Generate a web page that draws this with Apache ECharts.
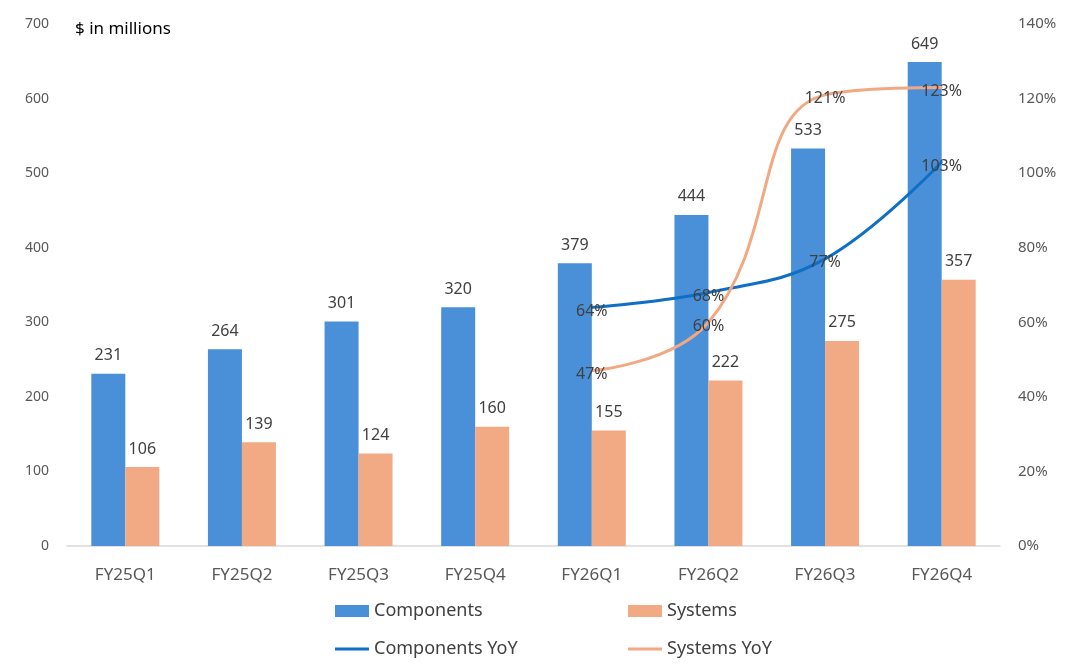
<!DOCTYPE html>
<html lang="en">
<head>
  <meta charset="UTF-8">
  <title>Components and Systems revenue</title>
  <script src="https://cdn.jsdelivr.net/npm/echarts@6/dist/echarts.min.js"></script>
  <style>
    html, body { margin: 0; padding: 0; background: #fff; }
    #chart { width: 1080px; height: 666px; }
  </style>
</head>
<body>
  <div id="chart"></div>
  <script>
    // data
    const quarters = ['FY25Q1', 'FY25Q2', 'FY25Q3', 'FY25Q4', 'FY26Q1', 'FY26Q2', 'FY26Q3', 'FY26Q4'];
    const components = [231, 264, 301, 320, 379, 444, 533, 649];
    const systems = [106, 139, 124, 160, 155, 222, 275, 357];
    const componentsYoY = [null, null, null, null, 64, 68, 77, 103];
    const systemsYoY = [null, null, null, null, 47, 60, 121, 123];

    const FONT = 'Noto Sans';
    const chart = echarts.init(document.getElementById('chart'));

    const legendBase = {
      orient: 'horizontal',
      itemWidth: 34,
      itemHeight: 12,
      itemGap: 4,
      textStyle: { fontFamily: FONT, fontSize: 18, color: '#404040' }
    };

    const barLabel = {
      show: true,
      position: 'top',
      distance: 10,
      fontFamily: FONT,
      fontSize: 16,
      color: '#404040'
    };

    // labels sit on the point, a little below centre
    const lineLabel = {
      show: true,
      position: 'inside',
      offset: [0, 4],
      fontFamily: FONT,
      fontSize: 16,
      color: '#404040',
      formatter: p => p.value + '%'
    };

    const option = {
      animation: false,
      backgroundColor: '#ffffff',
      title: {
        text: '$ in millions',
        left: 70,
        top: 16,
        textStyle: { fontFamily: FONT, fontSize: 17, fontWeight: 'normal', color: '#000' }
      },
      legend: [
        Object.assign({ left: 330, top: 597, data: [{ name: 'Components', icon: 'rect' }] }, legendBase),
        Object.assign({ left: 623, top: 597, data: [{ name: 'Systems', icon: 'rect' }] }, legendBase),
        Object.assign({ left: 330, top: 635, data: [{ name: 'Components YoY', icon: 'path://M0,0H34V3H0Z' }] }, legendBase, { itemHeight: 3 }),
        Object.assign({ left: 623, top: 635, data: [{ name: 'Systems YoY', icon: 'path://M0,0H34V3H0Z' }] }, legendBase, { itemHeight: 3 })
      ],
      grid: { left: 67, right: 80, top: 24, bottom: 120, containLabel: false },
      xAxis: {
        type: 'category',
        data: quarters,
        axisLine: { lineStyle: { color: '#d9d9d9', width: 1.5 } },
        axisTick: { show: false },
        axisLabel: { fontFamily: FONT, fontSize: 17, color: '#595959', margin: 21 }
      },
      yAxis: [
        {
          type: 'value',
          min: 0,
          max: 700,
          interval: 100,
          splitLine: { show: false },
          axisLine: { show: false },
          axisTick: { show: false },
          axisLabel: { fontFamily: FONT, fontSize: 14, color: '#595959', margin: 18 }
        },
        {
          type: 'value',
          min: 0,
          max: 140,
          interval: 20,
          position: 'right',
          splitLine: { show: false },
          axisLine: { show: false },
          axisTick: { show: false },
          axisLabel: { fontFamily: FONT, fontSize: 15, color: '#595959', margin: 18, formatter: '{value}%' }
        }
      ],
      series: [
        {
          name: 'Components',
          type: 'bar',
          data: components,
          barWidth: 34,
          barGap: '0%',
          itemStyle: { color: '#4a90d9' },
          label: barLabel
        },
        {
          name: 'Systems',
          type: 'bar',
          data: systems,
          barWidth: 34,
          barGap: '0%',
          itemStyle: { color: '#f2aa84' },
          label: barLabel
        },
        {
          name: 'Components YoY',
          type: 'line',
          yAxisIndex: 1,
          data: componentsYoY,
          smooth: 0.4,
          symbol: 'circle',
          symbolSize: 2,
          showSymbol: true,
          lineStyle: { color: '#0f6fc6', width: 3 },
          itemStyle: { color: '#0f6fc6' },
          label: lineLabel
        },
        {
          name: 'Systems YoY',
          type: 'line',
          yAxisIndex: 1,
          data: systemsYoY,
          smooth: 0.45,
          symbol: 'circle',
          symbolSize: 2,
          showSymbol: true,
          lineStyle: { color: '#f2a882', width: 3 },
          itemStyle: { color: '#f2a882' },
          label: lineLabel
        }
      ]
    };

    chart.setOption(option);
  </script>
</body>
</html>
